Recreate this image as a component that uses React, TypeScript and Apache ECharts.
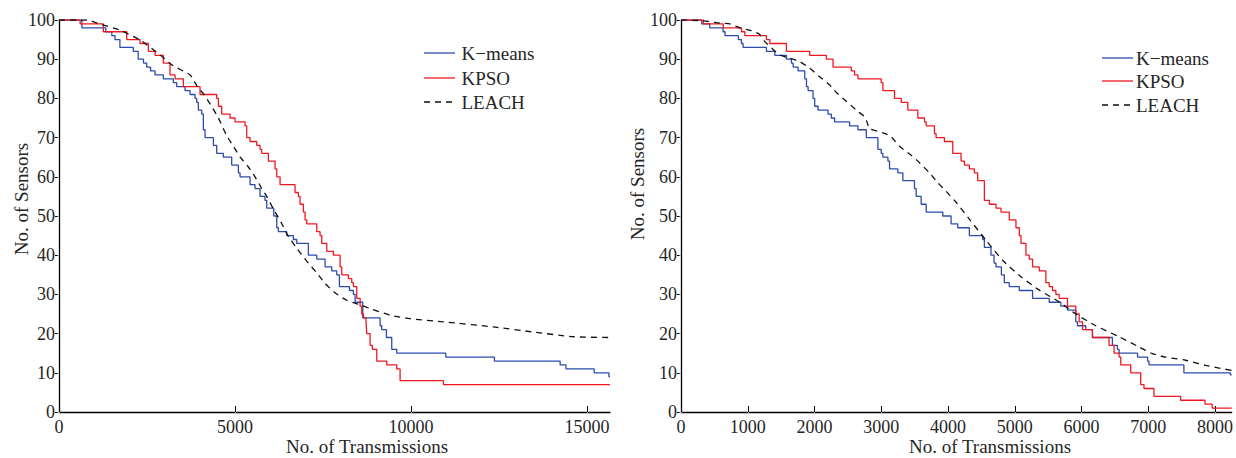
import React, { useEffect, useRef } from "react";
import * as echarts from "echarts";

const seriesNames = ["K−means", "KPSO", "LEACH"];
const xTitle = "No. of Transmissions";
const yTitle = "No. of Sensors";
const leftXTicks = [0, 5000, 10000, 15000];
const rightXTicks = [0, 1000, 2000, 3000, 4000, 5000, 6000, 7000, 8000];
const yTicks = [0, 10, 20, 30, 40, 50, 60, 70, 80, 90, 100];
const leftXMax = 15650;
const rightXMax = 8250;

const kmeansLeft = [
  [0, 100], [650, 98], [1330, 97], [1500, 96], [1590, 95], [1730, 93], [2110, 92], [2250, 90], [2400, 89],
  [2491, 88], [2600, 87], [2728, 86], [2964, 85], [3248, 84], [3343, 83], [3580, 82], [3722, 81], [3864, 80],
  [3911, 79], [3958, 77], [4053, 76], [4100, 72], [4148, 70], [4385, 68], [4479, 66], [4668, 65], [4905, 63],
  [5095, 61], [5142, 60], [5426, 58], [5568, 57], [5710, 55], [5850, 54], [5900, 52], [6100, 50], [6184, 47],
  [6231, 46], [6468, 45], [6657, 44], [6752, 43], [7083, 40], [7321, 39], [7557, 37], [7747, 36], [7889, 35],
  [7965, 32], [8249, 31], [8362, 30], [8410, 28], [8627, 24], [9120, 22], [9167, 21], [9300, 19], [9451, 16],
  [9593, 15], [10985, 14], [12368, 13], [14234, 12], [14400, 11], [15200, 10], [15620, 9], [15650, 9],
];
const kpsoLeft = [
  [0, 100], [600, 99], [1260, 97], [1923, 95], [2301, 94], [2538, 92], [2728, 91], [2964, 89], [3154, 86],
  [3296, 85], [3533, 83], [4006, 81], [4479, 80], [4527, 78], [4621, 76], [4858, 75], [5000, 74], [5285, 73],
  [5332, 70], [5426, 69], [5616, 68], [5710, 67], [5758, 66], [5947, 64], [6137, 62], [6184, 60], [6279, 58],
  [6705, 56], [6799, 55], [6847, 53], [6942, 51], [6989, 49], [7036, 48], [7321, 46], [7415, 45], [7463, 43],
  [7605, 41], [7794, 40], [7984, 37], [8031, 35], [8220, 34], [8315, 33], [8362, 32], [8457, 29], [8552, 27],
  [8599, 25], [8646, 24], [8722, 23], [8741, 20], [8836, 17], [8900, 16], [9025, 13], [9309, 12], [9593, 11],
  [9688, 8], [10920, 7], [15650, 7],
];
const leachLeft = [
  [0, 100], [800, 100], [1150, 99], [1733, 97.4], [2301, 94.9], [2870, 91.1], [3248, 88.3], [3722, 86],
  [3911, 83.3], [4100, 81.2], [4290, 78.6], [4527, 75], [4763, 70.5], [4953, 67.8], [5142, 65.1], [5379, 62.5],
  [5568, 60], [5758, 57], [5900, 55], [6089, 51.8], [6326, 48.1], [6468, 45.5], [6752, 41.8], [7036, 38.5],
  [7320, 35.5], [7560, 32.8], [7841, 30.4], [8173, 28.5], [8505, 27.5], [8836, 26.4], [9404, 24.7],
  [9972, 23.8], [10919, 23], [12340, 21.7], [13476, 20.4], [14612, 19.2], [15650, 19],
];

const kmeansRight = [
  [0, 100], [310, 99], [430, 98], [630, 97], [660, 96], [860, 95], [905, 94], [930, 93], [1280, 92], [1405, 91],
  [1580, 90], [1654, 89], [1680, 88], [1754, 87], [1854, 85], [1880, 83], [1904, 82], [1978, 80], [2003, 78],
  [2053, 77], [2203, 76], [2252, 75], [2302, 74], [2526, 73], [2651, 72], [2776, 70], [2950, 67], [3000, 66],
  [3025, 65], [3100, 64], [3124, 62], [3249, 61], [3324, 59], [3498, 57], [3523, 55], [3598, 53], [3673, 51],
  [3922, 50], [4046, 48], [4146, 47], [4320, 45], [4520, 44], [4545, 42], [4644, 40], [4690, 38], [4719, 37],
  [4800, 35], [4844, 33], [4918, 32], [5068, 31], [5267, 29], [5516, 28], [5691, 27], [5790, 26], [5915, 23],
  [5940, 22], [6064, 21], [6164, 19], [6463, 17], [6538, 16], [6563, 15], [6840, 14], [6990, 13], [7011, 12],
  [7534, 10], [8230, 9.5], [8250, 9.5],
];
const kpsoRight = [
  [0, 100], [334, 99], [633, 98], [907, 97], [957, 96], [1280, 95], [1331, 94], [1580, 92], [1928, 91],
  [2178, 90], [2277, 88], [2551, 87], [2600, 86], [2651, 85], [2999, 84], [3025, 82], [3199, 80], [3299, 79],
  [3398, 77], [3548, 75], [3648, 74], [3673, 73], [3797, 71], [3822, 70], [3946, 69], [4071, 66], [4196, 64],
  [4246, 63], [4320, 62], [4395, 61], [4445, 59], [4545, 54], [4620, 53], [4719, 52], [4794, 51], [4918, 49],
  [5018, 47], [5068, 45], [5093, 43], [5168, 40], [5217, 39], [5267, 37], [5367, 36], [5466, 33], [5516, 32],
  [5566, 31], [5616, 30], [5666, 29], [5790, 27], [5915, 25], [5965, 23], [6015, 21], [6164, 19], [6413, 17],
  [6488, 15], [6563, 14], [6588, 12], [6737, 10], [6887, 7], [6936, 6], [7086, 4], [7485, 3], [7850, 2],
  [7958, 1], [8250, 1],
];
const leachRight = [
  [0, 100], [334, 99.8], [583, 99.2], [732, 99], [882, 98], [1050, 97.3], [1181, 96.3], [1256, 94.5],
  [1380, 92.5], [1480, 91.1], [1580, 90.5], [1779, 89.4], [1928, 87.7], [2078, 85.5], [2227, 83.4],
  [2327, 81.5], [2477, 79.3], [2626, 77], [2751, 75.3], [2790, 73.8], [2825, 72.3], [3050, 71.1], [3149, 70.2],
  [3274, 67.8], [3448, 65.5], [3573, 63.6], [3722, 61], [3847, 58.5], [3971, 56.3], [4121, 53.5], [4320, 49.2],
  [4570, 43.8], [4819, 38.7], [5093, 34.5], [5367, 31.1], [5666, 28.1], [5915, 25], [6214, 22], [6563, 19.2],
  [6862, 16.6], [7061, 14.9], [7260, 14], [7559, 13.2], [7858, 11.9], [8250, 10.6],
];

const FONT = "'Liberation Serif', 'DejaVu Serif', serif";
const TEXT = "#262626";
const BLUE = "#2d4bad";
const RED = "#f01820";
const BLACK = "#111111";
const COLORS = [BLUE, RED, BLACK];
const DASH = [6, 5];

function bottomX(grid: number, max: number, ticks: number[]) {
  return {
    gridIndex: grid,
    type: "value",
    min: 0,
    max,
    position: "bottom",
    axisLine: { show: true, onZero: false, lineStyle: { color: "#000", width: 1.3 } },
    axisTick: { show: true, inside: true, length: 6, customValues: ticks, lineStyle: { color: "#000", width: 1 } },
    axisLabel: {
      show: true,
      customValues: ticks,
      formatter: (v: number) => String(v),
      fontSize: 18,
      fontFamily: FONT,
      color: TEXT,
      margin: 6,
    },
    splitLine: { show: false },
  };
}
function topX(grid: number, max: number, ticks: number[]) {
  return {
    gridIndex: grid,
    type: "value",
    min: 0,
    max,
    position: "top",
    axisLine: { show: false },
    axisTick: { show: true, inside: true, length: 1.5, customValues: ticks, lineStyle: { color: "#aaa", width: 1 } },
    axisLabel: { show: false },
    splitLine: { show: false },
  };
}
function leftY(grid: number) {
  return {
    gridIndex: grid,
    type: "value",
    min: 0,
    max: 100,
    interval: 10,
    position: "left",
    axisLine: { show: true, onZero: false, lineStyle: { color: "#000", width: 1.3 } },
    axisTick: { show: true, inside: false, length: 4, customValues: yTicks, lineStyle: { color: "#000", width: 1 } },
    axisLabel: { show: true, customValues: yTicks, fontSize: 18, fontFamily: FONT, color: TEXT, margin: 4 },
    splitLine: { show: false },
  };
}
function rightY(grid: number) {
  return {
    gridIndex: grid,
    type: "value",
    min: 0,
    max: 100,
    interval: 10,
    position: "right",
    axisLine: { show: false },
    axisTick: { show: true, inside: true, length: 1.5, customValues: yTicks, lineStyle: { color: "#aaa", width: 1 } },
    axisLabel: { show: false },
    splitLine: { show: false },
  };
}
function lineSeries(name: string, data: number[][], xi: number, yi: number, color: string, dashed: boolean) {
  return {
    name,
    type: "line",
    xAxisIndex: xi,
    yAxisIndex: yi,
    data,
    step: dashed ? undefined : "end",
    showSymbol: false,
    symbol: "none",
    smooth: dashed ? 0.2 : false,
    lineStyle: { color, width: 1.3, type: dashed ? DASH : "solid" },
    itemStyle: { color },
    emphasis: { disabled: true },
    silent: true,
    z: dashed ? 3 : 2,
  };
}
function legendGraphic(lineX1: number, lineX2: number, textX: number, ys: number[]) {
  const out: any[] = [];
  seriesNames.forEach((name, i) => {
    out.push({
      type: "line",
      shape: { x1: lineX1, y1: ys[i], x2: lineX2, y2: ys[i] },
      style: { stroke: COLORS[i], lineWidth: 1.3, lineDash: i === 2 ? DASH : null },
      silent: true,
    });
    out.push({
      type: "text",
      x: textX,
      y: ys[i],
      style: { text: name, fontSize: 19, fontFamily: FONT, fill: TEXT, align: "left", verticalAlign: "middle" },
      silent: true,
    });
  });
  return out;
}
function titleText(text: string, x: number, y: number, vertical: boolean) {
  return {
    type: "text",
    x,
    y,
    rotation: vertical ? Math.PI / 2 : 0,
    style: {
      text,
      fontSize: 19,
      fontFamily: FONT,
      fill: TEXT,
      align: "center",
      verticalAlign: vertical ? "middle" : "bottom",
    },
    silent: true,
  };
}

export default function App() {
  const ref = useRef<HTMLDivElement>(null);
  useEffect(() => {
    if (!ref.current) return;
    const chart = echarts.init(ref.current, undefined, { renderer: "svg" });
    chart.setOption({
      animation: false,
      backgroundColor: "#ffffff",
      textStyle: { fontFamily: FONT },
      grid: [
        { left: 59, top: 20, width: 551, height: 392, containLabel: false },
        { left: 681, top: 20, width: 552, height: 392, containLabel: false },
      ],
      xAxis: [
        bottomX(0, leftXMax, leftXTicks),
        topX(0, leftXMax, leftXTicks),
        bottomX(1, rightXMax, rightXTicks),
        topX(1, rightXMax, rightXTicks),
      ],
      yAxis: [leftY(0), rightY(0), leftY(1), rightY(1)],
      graphic: [
        ...legendGraphic(424, 455, 461.5, [53, 78, 102]),
        ...legendGraphic(1102, 1133, 1136, [58, 81, 105]),
        titleText(xTitle, 367, 456, false),
        titleText(xTitle, 990, 456, false),
        titleText(yTitle, 21, 199, true),
        titleText(yTitle, 637.5, 184, true),
      ],
      series: [
        lineSeries(seriesNames[0], kmeansLeft, 0, 0, BLUE, false),
        lineSeries(seriesNames[1], kpsoLeft, 0, 0, RED, false),
        lineSeries(seriesNames[2], leachLeft, 0, 0, BLACK, true),
        lineSeries(seriesNames[0], kmeansRight, 2, 2, BLUE, false),
        lineSeries(seriesNames[1], kpsoRight, 2, 2, RED, false),
        lineSeries(seriesNames[2], leachRight, 2, 2, BLACK, true),
      ],
    });
    return () => chart.dispose();
  }, []);
  return (
    <div
      ref={ref}
      style={{ position: "absolute", left: 0, top: 0, width: 1236, height: 458, background: "#fff" }}
    />
  );
}
